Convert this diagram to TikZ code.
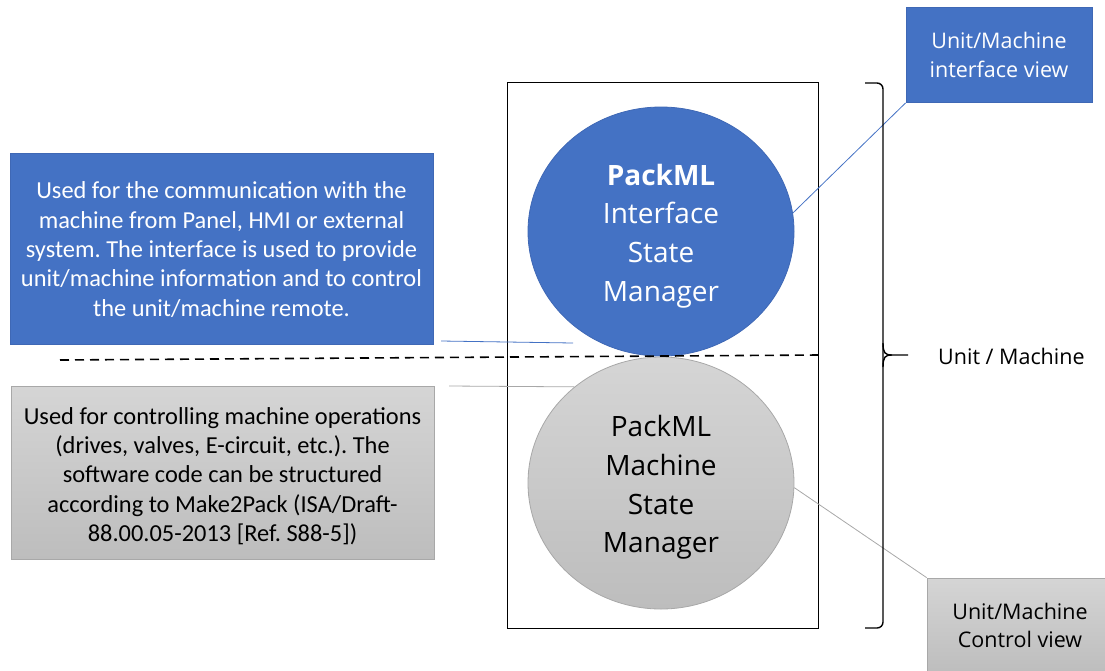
\documentclass[tikz,border=0pt]{standalone}
\usepackage{fontspec}
\setmainfont{Carlito}
\newfontfamily\osans{Open Sans}
\usetikzlibrary{shapes.geometric}
\definecolor{pmblue}{HTML}{4472C4}
\definecolor{pmblueedge}{HTML}{3F68B5}
\definecolor{pmgraytop}{HTML}{D5D5D5}
\definecolor{pmgraybot}{HTML}{BDBDBD}
\definecolor{pmgrayedge}{HTML}{A8A8A8}
\frenchspacing
\tikzset{
  x=1pt, y=-1pt,
  bluebox/.style={draw=pmblueedge, line width=0.8pt, fill=pmblue, text=white,
    align=center, inner sep=0pt},
  graybox/.style={draw=pmgrayedge, line width=0.8pt, top color=pmgraytop,
    bottom color=pmgraybot, text=black, align=center, inner sep=0pt},
  desctext/.style={font=\fontsize{24.4}{29.3}\selectfont, align=center,
    inner sep=0pt},
  viewtext/.style={font=\osans\fontsize{21.5}{28.5}\selectfont},
  statetext/.style={font=\osans\fontsize{28}{38.6}\selectfont, align=center,
    inner sep=0pt},
  blueline/.style={draw=pmblue, line width=0.8pt},
  grayline/.style={draw=pmgrayedge, line width=0.8pt},
}
\begin{document}
\begin{tikzpicture}
\useasboundingbox (0,0) rectangle (1105,670);
\clip (0,0) rectangle (1105,670);

% unit/machine frame
\node[draw=black, line width=1pt, minimum width=311pt, minimum height=546pt,
  inner sep=0pt] (frame) at (662.5,355) {};

% state managers
\node[ellipse, bluebox, minimum width=266pt, minimum height=249pt]
  (ifc) at (661,231.5) {};
\node[statetext, text=white] (ifcText) at ([yshift=-4.5pt]ifc.center)
  {\textbf{PackML}\\Interface\\State\\Manager};
\node[ellipse, graybox, minimum width=266pt, minimum height=252pt]
  (mcs) at (661,483) {};
\node[statetext, text=black] (mcsText) at ([yshift=-4.5pt]mcs.center)
  {PackML\\Machine\\State\\Manager};

% separation between interface and control part
\coordinate (sepL) at (60,360);
\coordinate (sepR) at (frame.east |- 0,355);
\draw[black, line width=1.6pt, dash pattern=on 9pt off 6pt] (sepL) -- (sepR);

% descriptions
\node[rectangle, bluebox, minimum width=423pt, minimum height=191pt]
  (idesc) at (221.5,248.5) {};
\node[desctext, text=white] (idescText) at ([yshift=-1pt]idesc.center)
  {Used for the communication with the\\machine from Panel, HMI or external\\
   system. The interface is used to provide\\unit/machine information and to control\\
   the unit/machine remote.};
\node[rectangle, graybox, minimum width=423pt, minimum height=173pt]
  (cdesc) at (222.5,472.5) {};
\node[desctext, text=black] (cdescText) at ([yshift=-3.5pt]cdesc.center)
  {Used for controlling machine operations\\(drives, valves, E-circuit, etc.). The\\
   software code can be structured\\according to Make2Pack (ISA/Draft-\\
   88.00.05-2013 [Ref. S88-5])};

% views
\node[rectangle, bluebox, minimum width=186pt, minimum height=95pt, viewtext]
  (ivw) at (999,55) {Unit/Machine\\interface view};
\node[rectangle, graybox, minimum width=186pt, minimum height=95pt, viewtext]
  (cvw) at (1020,625.5) {Unit/Machine\\Control view};

% leader lines
\coordinate (idescEnd) at (441,341);
\coordinate (ifcEnd) at (573,343);
\draw[blueline] (idescEnd) -- (ifcEnd);
\coordinate (cdescEnd) at (449,386);
\draw[grayline] (cdescEnd) -- (mcs.132);
\draw[blueline] (ifc.8) -- (ivw.south west);
\draw[grayline] (mcs.-2) -- (cvw.north west);

% curly brace around the unit/machine
\coordinate (brTop) at (865,83);
\coordinate (brBot) at (865,628);
\coordinate (brTip) at (908,355);
\draw[black, line width=1.4pt, rounded corners=6pt]
  (brTop) -- (883,83) -- (883,355) -- (brBot -| 883,0) -- (brBot);
\draw[black, line width=1.4pt]
  (883,343) .. controls (883,353) and (885,355) .. (892,355) -- (brTip);
\draw[black, line width=1.4pt]
  (883,367) .. controls (883,357) and (885,355) .. (892,355);
\node[viewtext, anchor=west, inner sep=0pt] (unit) at (938,356) {Unit / Machine};
\end{tikzpicture}
\end{document}
